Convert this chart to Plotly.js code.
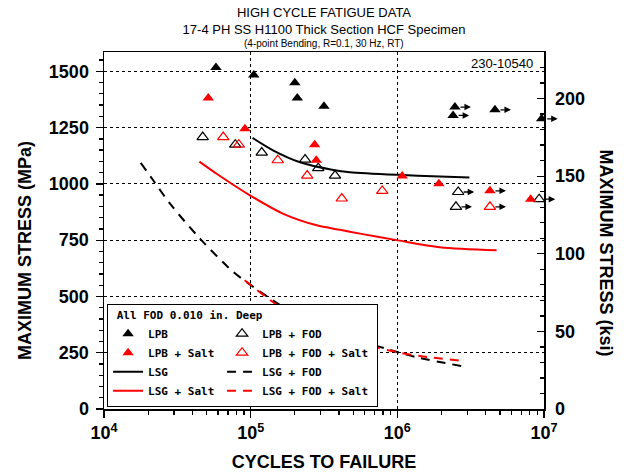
<!DOCTYPE html>
<html><head><meta charset="utf-8">
<script src="https://cdn.plot.ly/plotly-3.0.1.min.js"></script>
<style>html,body{margin:0;padding:0;background:#fff}#chart{width:625px;height:476px}</style>
</head><body><div id="chart"></div>
<script>
// ---- data (cycles to failure, max stress MPa) ----
const lpbCycles = [58000, 105000, 200000, 208000, 316000, 2470000, 2400000, 4630000, 9640000];
const lpbStress = [1517, 1484, 1449, 1381, 1345, 1341, 1304, 1329, 1289];
const lpbRunout = [0, 0, 0, 0, 0, 1, 1, 1, 1];

const lpbSaltCycles = [51400, 91400, 273000, 280000, 1080000, 1920000, 4280000, 8110000];
const lpbSaltStress = [1381, 1245, 1174, 1105, 1035, 1001, 969, 932];
const lpbSaltRunout = [0, 0, 0, 0, 0, 0, 1, 0];

const lpbFodCycles = [47100, 78500, 119000, 235000, 289000, 376000, 2600000, 2510000, 9270000];
const lpbFodStress = [1208, 1174, 1139, 1108, 1070, 1037, 964, 898, 932];
const lpbFodRunout = [0, 0, 0, 0, 0, 0, 1, 1, 1];

const lpbFodSaltCycles = [65000, 83000, 153000, 243000, 418000, 789000, 4280000];
const lpbFodSaltStress = [1208, 1174, 1105, 1037, 935, 969, 898];
const lpbFodSaltRunout = [0, 0, 0, 0, 0, 0, 1];

const lsgCycles = [103000, 143000, 217000, 366000, 475000, 1010000, 1950000, 3100000];
const lsgStress = [1204, 1148, 1096, 1062, 1052, 1040, 1033, 1028];

const lsgSaltCycles = [44700, 58600, 98900, 167000, 282000, 406000, 556000, 1010000, 1950000, 4750000];
const lsgSaltStress = [1099, 1045, 949, 867, 816, 796, 779, 749, 719, 705];

const lsgFodCycles = [17800, 21700, 28200, 45100, 76000, 102000, 167000, 282000, 501000, 1040000, 1430000, 2890000];
const lsgFodStress = [1093, 1015, 912, 757, 609, 547, 453, 380, 313, 250, 226, 188];

const lsgFodSaltCycles = [91000, 167000, 282000, 501000, 617000, 1040000, 1430000, 2800000];
const lsgFodSaltStress = [572, 443, 368, 301, 284, 250, 235, 214];

const xTickVals = [1e4, 1e5, 1e6, 1e7];
const xTickText = ['10<sup>4</sup>', '10<sup>5</sup>', '10<sup>6</sup>', '10<sup>7</sup>'];
const MPA_PER_KSI = 6.89476;
const KSI_MAX = 230;

// ---- styling ----
const RED = '#ff0000';
const FONT = 'Liberation Sans, Arial, Helvetica, sans-serif';
const LFONT = {family: 'DejaVu Sans Mono, monospace', size: 11, color: '#000', weight: 'bold'};
const DASH = '9px,7px';

const traces = [
  {name: 'LSG', x: lsgCycles, y: lsgStress, mode: 'lines', line: {color: '#000', width: 2, shape: 'spline', smoothing: 0.8}, legend: 'legend', legendrank: 3},
  {name: 'LSG + Salt', x: lsgSaltCycles, y: lsgSaltStress, mode: 'lines', line: {color: RED, width: 2, shape: 'spline', smoothing: 0.8}, legend: 'legend', legendrank: 4},
  {name: 'LSG + FOD', x: lsgFodCycles, y: lsgFodStress, mode: 'lines', line: {color: '#000', width: 2, dash: DASH, shape: 'spline', smoothing: 0.8}, legend: 'legend2', legendrank: 3},
  {name: 'LSG + FOD + Salt', x: lsgFodSaltCycles, y: lsgFodSaltStress, mode: 'lines', line: {color: RED, width: 2, dash: DASH, shape: 'spline', smoothing: 0.8}, legend: 'legend2', legendrank: 4},
  {name: 'LPB + FOD', x: lpbFodCycles, y: lpbFodStress, mode: 'markers', marker: {symbol: 'triangle-up-open', size: 10, color: '#000', line: {width: 1.2, color: '#000'}}, legend: 'legend2', legendrank: 1},
  {name: 'LPB + FOD + Salt', x: lpbFodSaltCycles, y: lpbFodSaltStress, mode: 'markers', marker: {symbol: 'triangle-up-open', size: 10, color: RED, line: {width: 1.2, color: RED}}, legend: 'legend2', legendrank: 2},
  {name: 'LPB', x: lpbCycles, y: lpbStress, mode: 'markers', marker: {symbol: 'triangle-up', size: 10, color: '#000'}, legend: 'legend', legendrank: 1},
  {name: 'LPB + Salt', x: lpbSaltCycles, y: lpbSaltStress, mode: 'markers', marker: {symbol: 'triangle-up', size: 10, color: RED}, legend: 'legend', legendrank: 2},
  {x: [], y: [], yaxis: 'y2', showlegend: false, hoverinfo: 'skip'}
];

// runout arrows
const annotations = [];
[[lpbCycles, lpbStress, lpbRunout], [lpbSaltCycles, lpbSaltStress, lpbSaltRunout],
 [lpbFodCycles, lpbFodStress, lpbFodRunout], [lpbFodSaltCycles, lpbFodSaltStress, lpbFodSaltRunout]]
.forEach(([xs, ys, rs]) => {
  xs.forEach((n, i) => {
    if (rs[i]) annotations.push({
      x: Math.log10(n), y: ys[i], xref: 'x', yref: 'y', text: '',
      showarrow: true, ax: -12, ay: 0, xshift: 16, arrowhead: 2, arrowsize: 1,
      arrowwidth: 1.3, arrowcolor: '#000', standoff: 0, startstandoff: 0
    });
  });
});

annotations.push(
  {text: '(4-point Bending, R=0.1, 30 Hz, RT)', xref: 'paper', yref: 'paper', x: 0.5, y: 1.025,
   xanchor: 'center', yanchor: 'middle', showarrow: false, font: {family: FONT, size: 10, color: '#000'}},
  {text: '230-10540', xref: 'paper', yref: 'paper', x: 0.98, y: 0.969, xanchor: 'right', yanchor: 'middle',
   showarrow: false, font: {family: FONT, size: 13, color: '#000'}},
  {text: 'MAXIMUM STRESS (ksi)', xref: 'paper', yref: 'paper', x: 1.141, y: 0.438, textangle: 90,
   xanchor: 'center', yanchor: 'middle', showarrow: false, font: {family: FONT, size: 18, color: '#000', weight: 'bold'}}
);

const nb = n => '&nbsp;'.repeat(n);

const layout = {
  width: 625, height: 476,
  margin: {l: 104, r: 81, t: 52, b: 67},
  paper_bgcolor: '#fff', plot_bgcolor: '#fff',
  font: {family: FONT, color: '#000'},
  title: {text: 'HIGH CYCLE FATIGUE DATA<br>17-4 PH SS H1100 Thick Section HCF Specimen',
          x: 0.5, xref: 'paper', xanchor: 'center', y: 0.964, yref: 'container', yanchor: 'top',
          font: {family: FONT, size: 13, color: '#000'}},
  xaxis: {type: 'log', range: [4, 7], tickmode: 'array', tickvals: xTickVals, ticktext: xTickText,
          ticks: 'outside', ticklen: 7, tickwidth: 1.3, tickcolor: '#000',
          showline: true, linecolor: '#000', linewidth: 1.5, mirror: true,
          showgrid: true, gridcolor: '#000', griddash: 'dot', gridwidth: 1,
          tickfont: {family: FONT, size: 18, weight: 'bold', color: '#000'},
          minor: {ticks: 'outside', ticklen: 4, tickcolor: '#000', showgrid: false,
                  tickmode: 'array', tickvals: [2e4,3e4,4e4,5e4,6e4,7e4,8e4,9e4,2e5,3e5,4e5,5e5,6e5,7e5,8e5,9e5,2e6,3e6,4e6,5e6,6e6,7e6,8e6,9e6]},
          title: {text: 'CYCLES TO FAILURE', font: {family: FONT, size: 18, weight: 'bold', color: '#000'}, standoff: 13}},
  yaxis: {range: [0, KSI_MAX * MPA_PER_KSI], dtick: 250, tick0: 0,
          ticks: 'outside', ticklen: 7, tickwidth: 1.3, tickcolor: '#000', ticklabelstandoff: 3,
          showline: true, linecolor: '#000', linewidth: 1.5, mirror: true, zeroline: false,
          showgrid: true, gridcolor: '#000', griddash: 'dot', gridwidth: 1,
          tickfont: {family: FONT, size: 18, weight: 'bold', color: '#000'},
          minor: {dtick: 50, ticks: 'outside', ticklen: 4, tickcolor: '#000', showgrid: false},
          title: {text: 'MAXIMUM STRESS (MPa)' + nb(8), font: {family: FONT, size: 18, weight: 'bold', color: '#000'}, standoff: 12}},
  yaxis2: {overlaying: 'y', side: 'right', range: [0, KSI_MAX], dtick: 50, tick0: 0,
           ticks: 'inside', ticklen: 7, tickwidth: 1.3, tickcolor: '#000', ticklabelstandoff: 6,
           showline: true, linecolor: '#000', linewidth: 1.5, zeroline: false, showgrid: false,
           tickfont: {family: FONT, size: 18, weight: 'bold', color: '#000'},
           minor: {dtick: 10, ticks: 'inside', ticklen: 4, tickcolor: '#000', showgrid: false}},
  legend: {x: 0.007, y: 0.006, xanchor: 'left', yanchor: 'bottom', orientation: 'v',
           bgcolor: '#fff', bordercolor: '#000', borderwidth: 1, font: LFONT,
           title: {text: nb(1) + 'All FOD 0.010 in. Deep' + nb(17), font: LFONT, side: 'top'}},
  legend2: {x: 0.266, y: 0.006, xanchor: 'left', yanchor: 'bottom', orientation: 'v',
            bgcolor: 'rgba(0,0,0,0)', bordercolor: 'rgba(0,0,0,0)', borderwidth: 1, font: LFONT,
            title: {text: ' ', font: LFONT, side: 'top'}},
  annotations: annotations,
  showlegend: true
};

Plotly.newPlot('chart', traces, layout, {displayModeBar: false, staticPlot: true});
</script></body></html>
